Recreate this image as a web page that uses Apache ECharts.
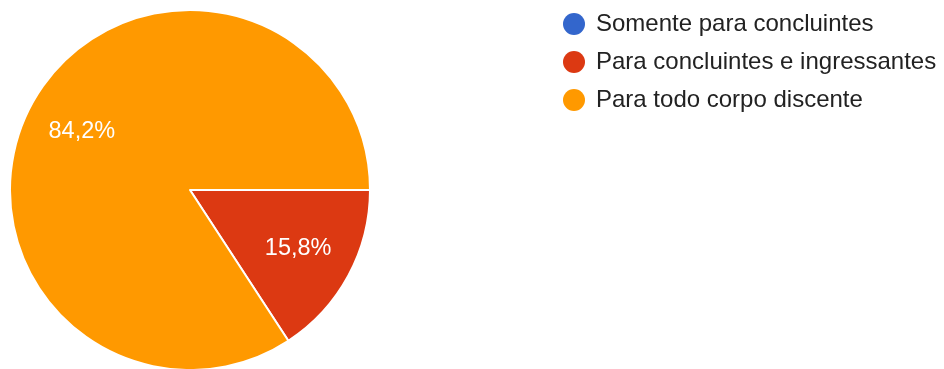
<!DOCTYPE html>
<html>
<head>
<meta charset="utf-8">
<script src="https://cdn.jsdelivr.net/npm/echarts@6/dist/echarts.min.js"></script>
<style>
html,body{margin:0;padding:0;background:#fff;}
#chart{width:944px;height:369px;}
</style>
</head>
<body>
<div id="chart"></div>
<script>
const categories = ['Somente para concluintes', 'Para concluintes e ingressantes', 'Para todo corpo discente'];
const values = [0, 15.8, 84.2];
const colors = ['#3366cc', '#dc3912', '#ff9900'];

const chart = echarts.init(document.getElementById('chart'), null, {renderer: 'canvas'});
const FONT = '"Liberation Sans", Arial, sans-serif';

const mainData = categories.map((c, i) => ({name: c, value: values[i], itemStyle: {color: colors[i]}}));
const labelData = categories.map((c, i) => ({name: c, value: values[i]}));

chart.setOption({
  animation: false,
  legend: {
    orient: 'vertical',
    left: 558,
    top: 7,
    icon: 'circle',
    itemWidth: 22,
    itemHeight: 22,
    itemGap: 14,
    selectedMode: false,
    itemStyle: {borderWidth: 0},
    data: categories.map((c, i) => ({name: c, itemStyle: {color: colors[i], borderWidth: 0}})),
    textStyle: {fontFamily: FONT, fontSize: 24, color: '#222222', padding: [0, 0, 0, 6], lineHeight: 20}
  },
  series: [
    {
      type: 'pie',
      center: [190, 190],
      radius: 180,
      startAngle: 0,
      clockwise: true,
      silent: true,
      label: {show: false},
      labelLine: {show: false},
      itemStyle: {borderColor: '#ffffff', borderWidth: 2},
      data: mainData
    },
    {
      type: 'pie',
      center: [190, 190],
      radius: [61, 179],
      startAngle: 0,
      clockwise: true,
      silent: true,
      itemStyle: {color: 'rgba(0,0,0,0)', borderWidth: 0},
      label: {
        show: true,
        position: 'inside',
        color: '#ffffff',
        fontFamily: FONT,
        fontSize: 23.5,
        formatter: p => p.value > 0 ? String(p.value.toFixed(1)).replace('.', ',') + '%' : ''
      },
      labelLine: {show: false},
      data: labelData
    }
  ]
});
</script>
</body>
</html>
